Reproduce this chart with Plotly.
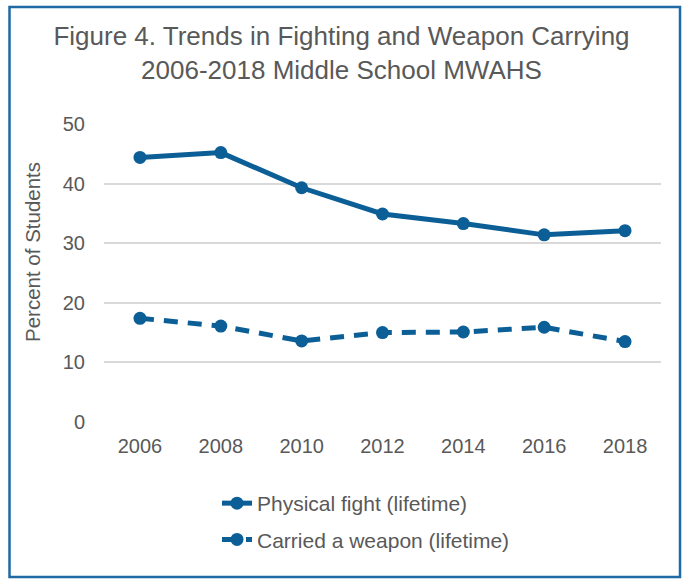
import plotly.graph_objects as go

years = ["2006", "2008", "2010", "2012", "2014", "2016", "2018"]
physical_fight = [44.4, 45.2, 39.3, 34.9, 33.3, 31.4, 32.1]
carried_weapon = [17.4, 16.1, 13.6, 15.0, 15.1, 15.9, 13.5]
series_names = ["Physical fight (lifetime)", "Carried a weapon (lifetime)"]
y_ticks = [0, 10, 20, 30, 40, 50]
y_title = "Percent of Students"

BLUE = "#0b5f96"
GRAY = "#595959"
FONT = "Liberation Sans, Arial, sans-serif"

fig = go.Figure()
fig.add_trace(go.Scatter(
    x=years, y=physical_fight, name=series_names[0], mode="lines+markers",
    line=dict(color=BLUE, width=5), marker=dict(color=BLUE, size=13),
    legendgroup="a"))
fig.add_trace(go.Scatter(
    x=years, y=carried_weapon, name=series_names[1], mode="lines+markers",
    line=dict(color=BLUE, width=5, dash="14px,10px"), marker=dict(color=BLUE, size=13),
    legendgroup="b"))

W, H = 683, 579
L, R, T, B = 104, 22, 124, 157
pw, ph = W - L - R, H - T - B
def px_x(v):
    return (v - L) / pw
def px_y(v):
    return (H - B - v) / ph

fig.add_shape(type="rect", xref="paper", yref="paper",
              x0=px_x(9.5), x1=px_x(680), y0=px_y(577), y1=px_y(7),
              line=dict(color="#1f6aa5", width=2.5), fillcolor="rgba(0,0,0,0)", layer="above")

fig.add_annotation(text=y_title, textangle=-90, showarrow=False,
                   xref="paper", yref="paper", x=px_x(32), y=px_y(252),
                   xanchor="center", yanchor="middle",
                   font=dict(size=20.5, color=GRAY, family=FONT))

fig.update_layout(
    width=W, height=H,
    margin=dict(l=L, r=R, t=T, b=B, autoexpand=False),
    paper_bgcolor="white", plot_bgcolor="white",
    font=dict(family=FONT, color=GRAY),
    title=dict(text="Figure 4. Trends in Fighting and Weapon Carrying<br>2006-2018 Middle School MWAHS",
               x=0.5, xref="container", xanchor="center",
               y=1 - 45 / H, yref="container", yanchor="top",
               font=dict(size=26, color=GRAY, family=FONT)),
    showlegend=True,
    legend=dict(x=px_x(217), xref="paper", xanchor="left",
                y=px_y(483), yref="paper", yanchor="top",
                traceorder="grouped", tracegroupgap=6,
                font=dict(size=21, color=GRAY, family=FONT),
                bgcolor="rgba(0,0,0,0)"),
    xaxis=dict(type="category", showgrid=False, showline=False, zeroline=False,
               tickfont=dict(size=20, color=GRAY), ticks="", ticklabelstandoff=10,
               tickangle=0),
    yaxis=dict(range=[0, 50], tickvals=y_ticks, showgrid=True, gridcolor="#d9d9d9",
               gridwidth=2, zeroline=False, showline=False,
               tickfont=dict(size=20, color=GRAY), ticks="", ticklabelstandoff=18),
)

fig.write_html("out.html", config={"displayModeBar": False},
               post_script="document.body.style.margin='0px';document.body.style.padding='0px';")
